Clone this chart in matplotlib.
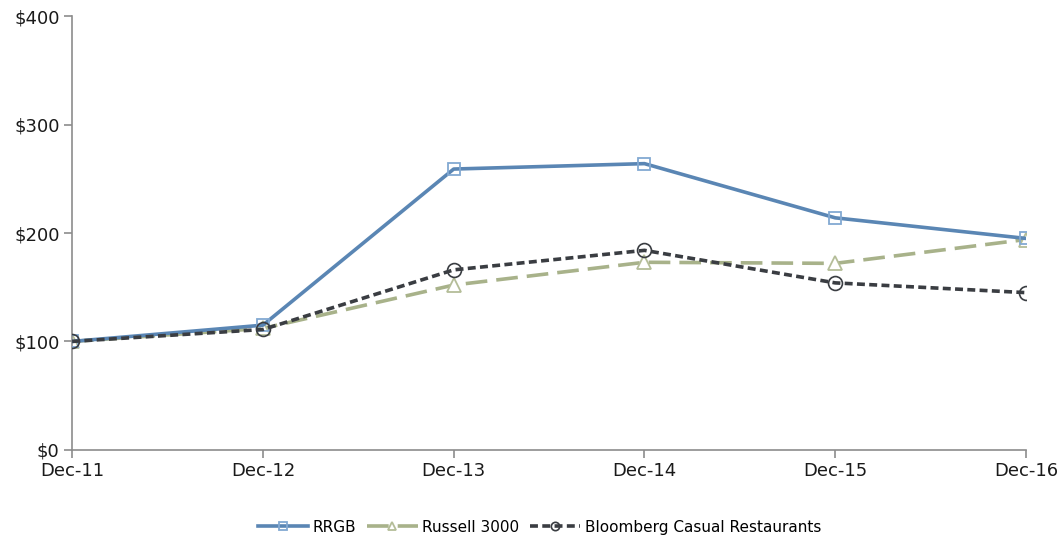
import matplotlib.pyplot as plt
from matplotlib.ticker import FuncFormatter

# cumulative total return, $100 invested
years = ['Dec-11', 'Dec-12', 'Dec-13', 'Dec-14', 'Dec-15', 'Dec-16']
rrgb = [100, 115, 259, 264, 214, 195]
russell = [100, 112, 152, 173, 172, 194]
bloomberg = [100, 111, 166, 184, 154, 145]

plt.rcParams['font.family'] = ['DejaVu Sans']

fig = plt.figure(figsize=(10.61, 5.40), dpi=100)
ax = fig.add_axes([0.068, 0.167, 0.899, 0.803])

x = range(len(years))
ax.plot(x, rrgb, color='#5a86b4', lw=2.6, marker='s', ms=9,
        mfc='none', mec='#82a9d2', mew=1.3, label='RRGB', zorder=3)
ax.plot(x, russell, color='#a8b28a', lw=2.6, ls=(0, (6, 2.5)), marker='^', ms=10,
        mfc='white', mec='#b4bd98', mew=1.3, label='Russell 3000', zorder=2)
ax.plot(x, bloomberg, color='#3a3d42', lw=2.6, ls=(0, (2.2, 1.2)), marker='o', ms=10,
        mfc='none', mec='#3a3d42', mew=1.2, label='Bloomberg Casual Restaurants', zorder=4)

ax.set_xlim(0, len(years) - 1)
ax.set_ylim(0, 400)
ax.set_yticks([0, 100, 200, 300, 400])
ax.yaxis.set_major_formatter(FuncFormatter(lambda v, p: '${:.0f}'.format(v)))
ax.set_xticks(list(x))
ax.set_xticklabels(years)

for s in ['top', 'right']:
    ax.spines[s].set_visible(False)
for s in ['left', 'bottom']:
    ax.spines[s].set_color('#8c8c8c')
    ax.spines[s].set_linewidth(1.2)
ax.tick_params(axis='both', colors='#8c8c8c', length=6, width=1.2, labelsize=13,
               labelcolor='#1a1a1a')
ax.tick_params(axis='y', pad=3)
ax.tick_params(axis='x', pad=3)

ax.legend(loc='center', bbox_to_anchor=(0.49, -0.178), ncol=3, frameon=False,
          fontsize=11, handlelength=3.3, columnspacing=0.7, handletextpad=0.3,
          markerscale=0.6)

fig.savefig('out.png', dpi=100)
